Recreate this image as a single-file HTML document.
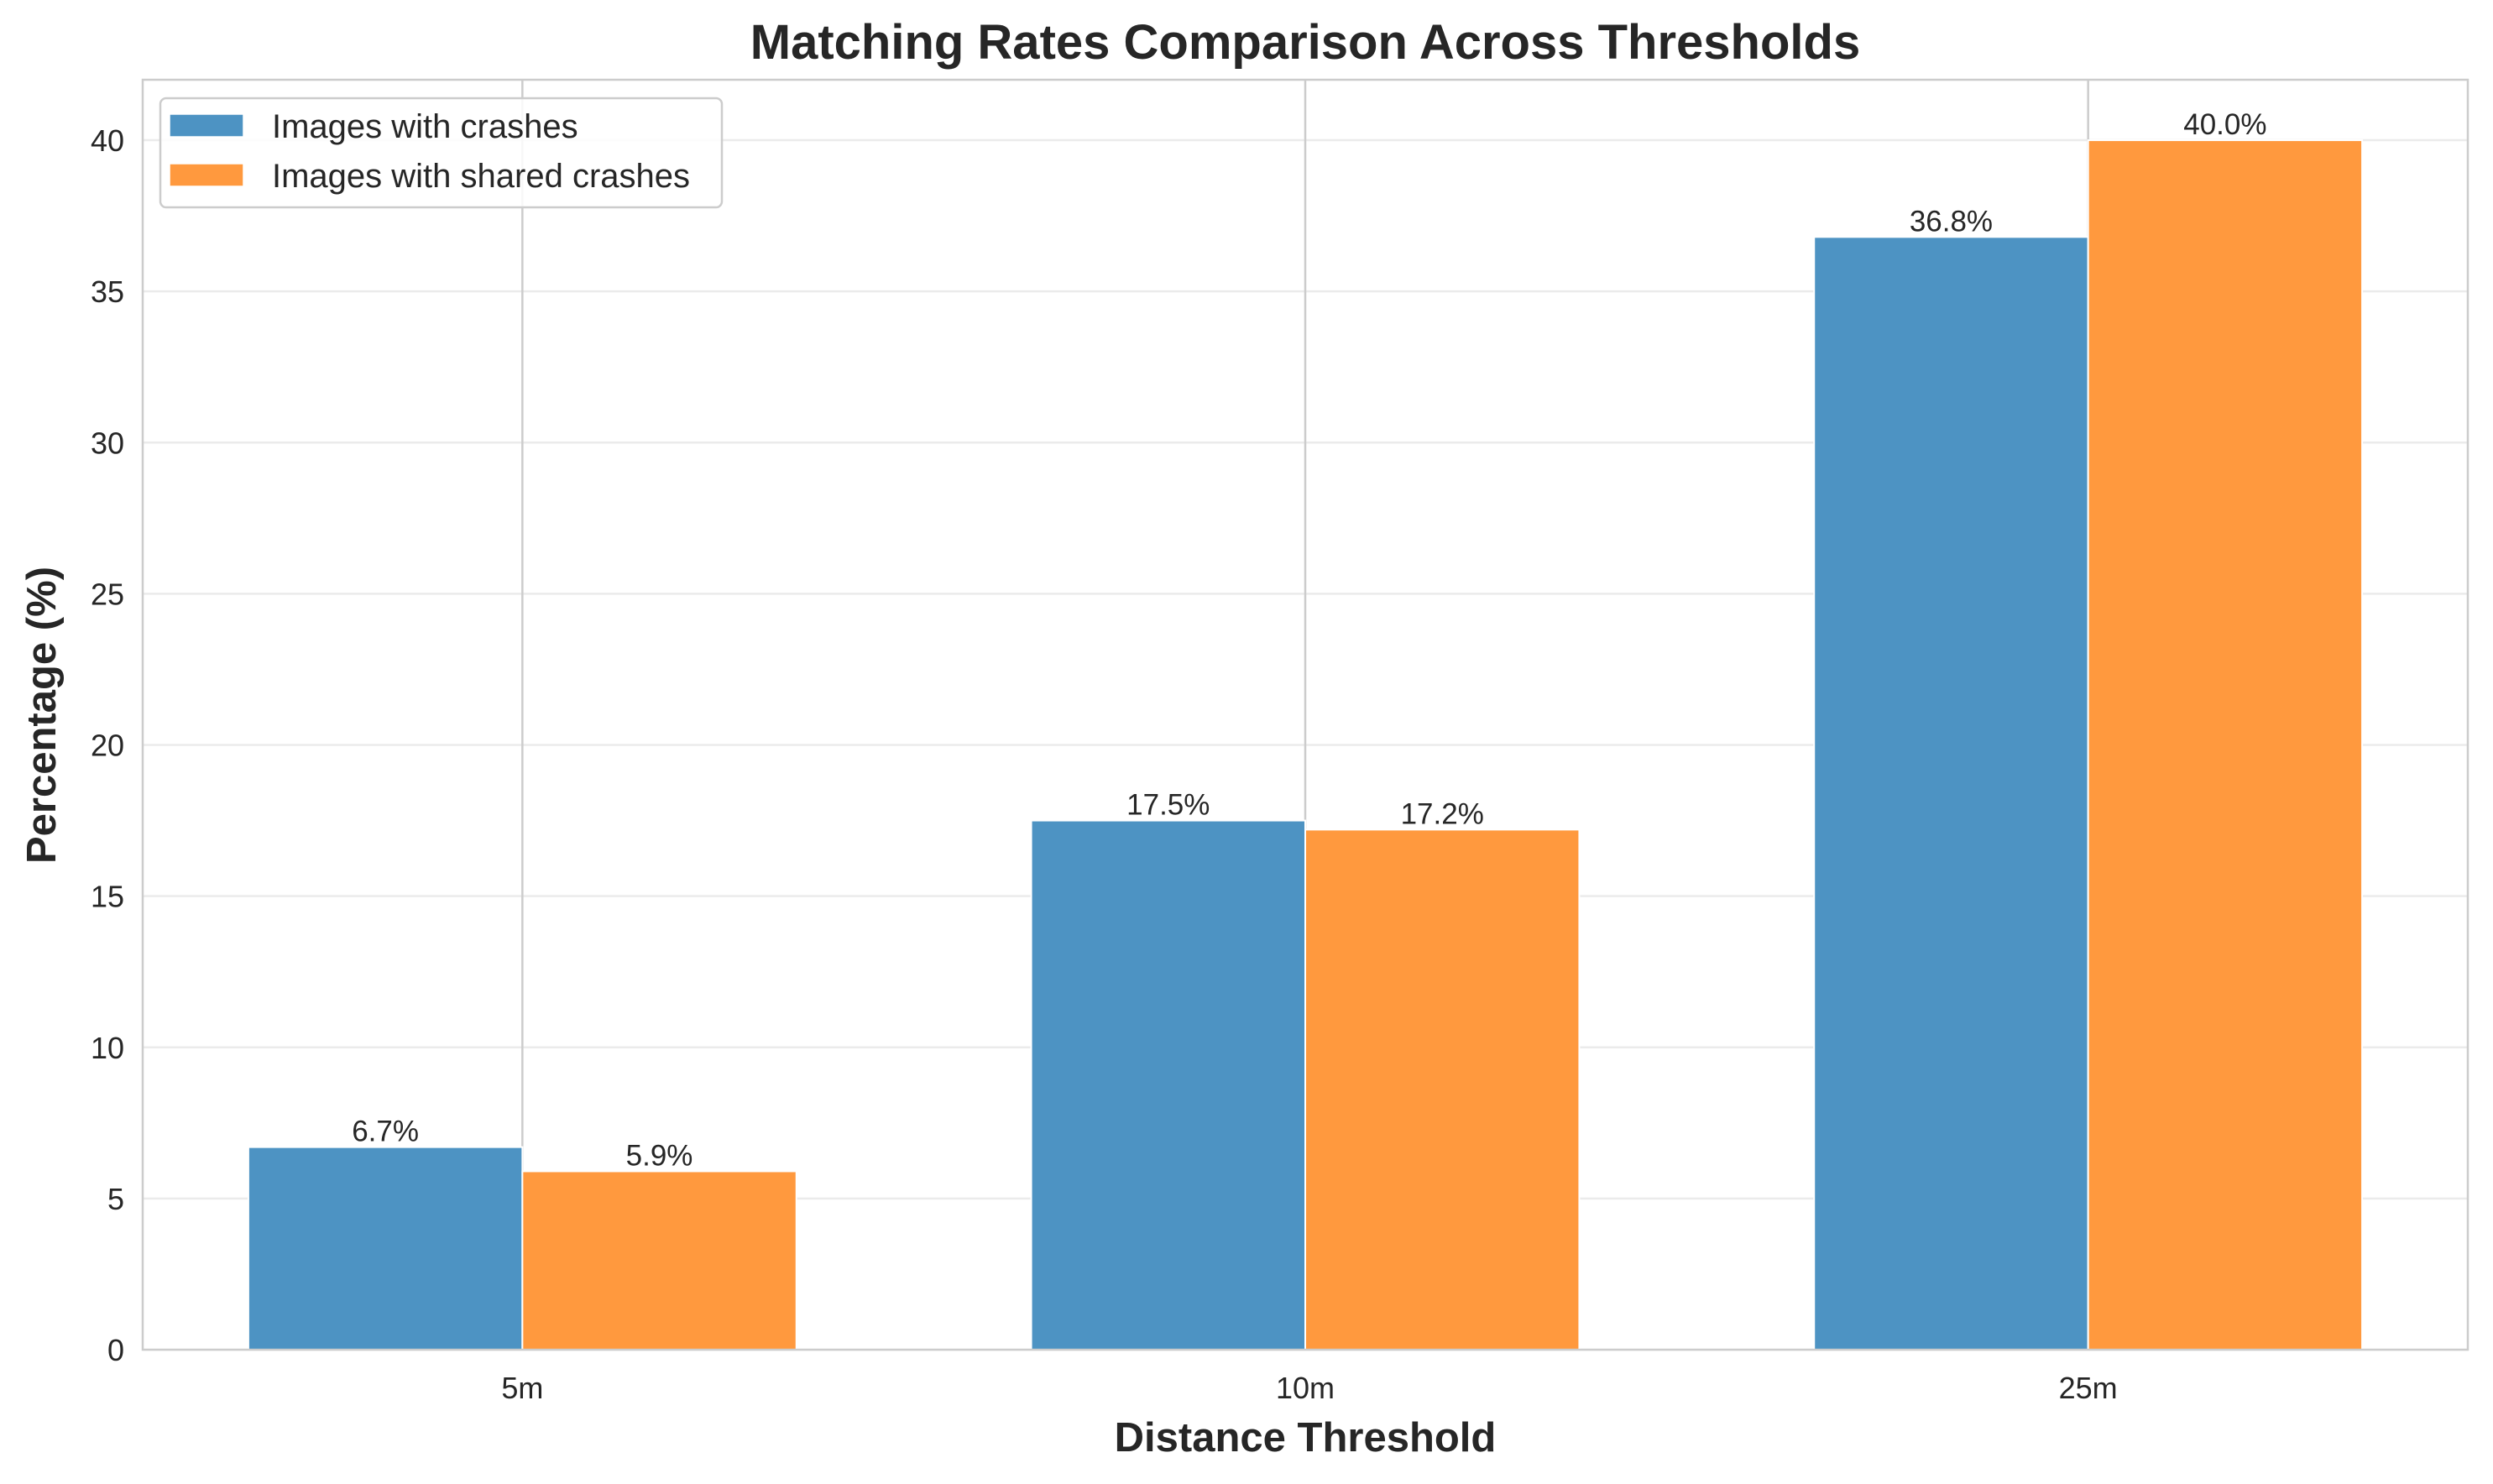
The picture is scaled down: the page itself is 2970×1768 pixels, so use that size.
<!DOCTYPE html>
<html><head><meta charset="utf-8"><style>
html,body{margin:0;padding:0;background:#fff;}
svg{display:block;font-family:"Liberation Sans",Arial,sans-serif;}
</style></head><body>
<svg id="chart" width="2970" height="1768" viewBox="0 0 2970 1768" xmlns="http://www.w3.org/2000/svg">
<rect width="2970" height="1768" fill="#fff"/>
<g id="grid"></g>
<g id="bars"></g>
<g id="labels"></g>
<rect x="170" y="95" width="2770" height="1513" fill="none" stroke="#cccccc" stroke-width="2.5"/>
<g id="ticks"></g>
<text x="1555" y="70" text-anchor="middle" font-size="58" font-weight="bold" fill="#262626">Matching Rates Comparison Across Thresholds</text>
<text x="1555" y="1729" text-anchor="middle" font-size="49" font-weight="bold" fill="#262626">Distance Threshold</text>
<text transform="translate(66,852) rotate(-90)" text-anchor="middle" font-size="49" font-weight="bold" fill="#262626">Percentage (%)</text>
<g>
<rect x="191" y="117" width="669" height="130" rx="7" fill="#fff" fill-opacity="0.85" stroke="#cccccc" stroke-width="2.5"/>
<rect x="202" y="136" width="88" height="27" fill="#4d93c3" stroke="#fff" stroke-width="1.5"/>
<text x="324" y="164" font-size="40" fill="#262626">Images with crashes</text>
<rect x="202" y="195" width="88" height="27" fill="#ff993e" stroke="#fff" stroke-width="1.5"/>
<text x="324" y="223" font-size="40" fill="#262626">Images with shared crashes</text>
</g>
</svg>
<script>
const categories = ["5m", "10m", "25m"];
const crashes = [6.7, 17.5, 36.8];
const shared = [5.9, 17.2, 40.0];
const yTicks = [0, 5, 10, 15, 20, 25, 30, 35, 40];

const NS = "http://www.w3.org/2000/svg";
const L = 170, R = 2940, T = 95, B = 1608;
const xMin = -0.485, xMax = 2.485, yMax = 42;
const xs = v => L + (v - xMin) / (xMax - xMin) * (R - L);
const ys = v => B - v / yMax * (B - T);
function mk(tag, attrs, parent) {
  const e = document.createElementNS(NS, tag);
  for (const k in attrs) e.setAttribute(k, attrs[k]);
  parent.appendChild(e);
  return e;
}
const grid = document.getElementById('grid');
const bars = document.getElementById('bars');
const labels = document.getElementById('labels');
const ticks = document.getElementById('ticks');

yTicks.forEach(t => {
  const ln = mk('line', {x1: L, x2: R, y1: ys(t), y2: ys(t), stroke: '#ebebeb', 'stroke-width': 2.5}, grid);
  
  
  const tx = mk('text', {x: L - 22, y: ys(t) + 13, 'text-anchor': 'end', 'font-size': 36, fill: '#262626'}, ticks);
  tx.textContent = t;
  
  
});
const w = 0.35;
categories.forEach((c, i) => {
  const ln = mk('line', {x1: xs(i), x2: xs(i), y1: T, y2: B, stroke: '#cccccc', 'stroke-width': 2.5}, grid);
  
  
  const tx = mk('text', {x: xs(i), y: B + 58, 'text-anchor': 'middle', 'font-size': 36, fill: '#262626'}, ticks);
  tx.textContent = c;
  
  
  [[crashes, '#4d93c3', -w, 'bar-crashes'], [shared, '#ff993e', 0, 'bar-shared']].forEach(([arr, col, off, nm]) => {
    const x0 = xs(i + off), x1 = xs(i + off + w);
    const r = mk('rect', {x: x0, y: ys(arr[i]), width: x1 - x0, height: B - ys(arr[i]), fill: col, stroke: '#fff', 'stroke-width': 2}, bars);
    
    
    const lb = mk('text', {x: (x0 + x1) / 2, y: ys(arr[i]) - 7, 'text-anchor': 'middle', 'font-size': 35, fill: '#262626'}, labels);
    lb.textContent = arr[i].toFixed(1) + '%';
    
    
  });
});
</script>
</body></html>
